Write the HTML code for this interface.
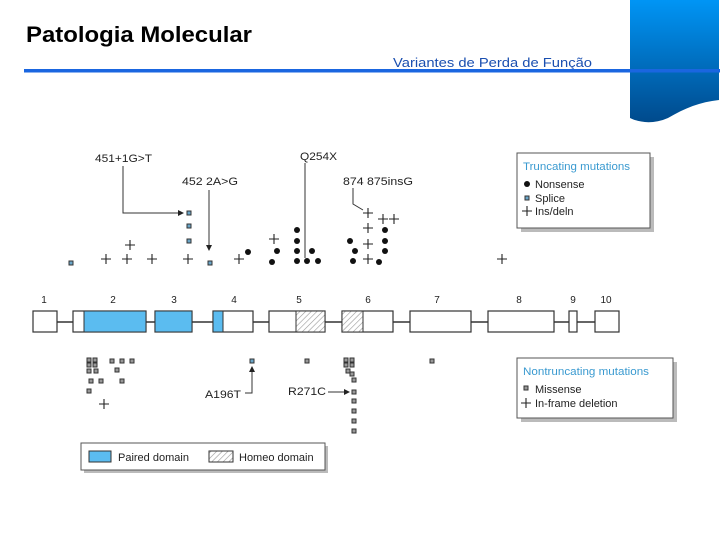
<!DOCTYPE html>
<html><head><meta charset="utf-8"><style>
html,body{margin:0;padding:0;background:#fff;}
svg{display:block;font-family:"Liberation Sans",Arial,sans-serif;}
</style></head><body>
<svg width="720" height="540" viewBox="0 0 720 540" xmlns="http://www.w3.org/2000/svg">
<defs>
<linearGradient id="tab" x1="0" y1="0" x2="0" y2="1">
<stop offset="0" stop-color="#0095f5"/><stop offset="1" stop-color="#004a8c"/>
</linearGradient>
<pattern id="hatch" width="4" height="4" patternUnits="userSpaceOnUse" patternTransform="rotate(45)">
<rect width="4" height="4" fill="#fff"/><line x1="0" y1="0" x2="0" y2="4" stroke="#999" stroke-width="1.2"/>
</pattern>
<marker id="ar" markerWidth="6" markerHeight="6" refX="5" refY="3" orient="auto" markerUnits="userSpaceOnUse">
<path d="M0,0 L6,3 L0,6z" fill="#222"/></marker>
</defs>

<path d="M630,0 H719 V100 C700,102 685,108 668,118 C652,125 638,122 630,118 Z" fill="url(#tab)"/>
<text x="26" y="42" font-size="22" font-weight="bold" fill="#000" textLength="226" lengthAdjust="spacingAndGlyphs">Patologia Molecular</text>
<text x="393" y="67" font-size="12.5" fill="#1a4fb0" textLength="199" lengthAdjust="spacingAndGlyphs">Variantes de Perda de Função</text>
<rect x="24" y="69" width="696" height="3.5" fill="#1a66e0"/>

<g stroke="#333" stroke-width="1.5">
<line x1="57" y1="322" x2="596" y2="322"/>
</g>
<g stroke="#333" stroke-width="1.2" fill="#fff">
<rect x="33" y="311" width="24" height="21"/>
<rect x="73" y="311" width="73" height="21"/>
<rect x="155" y="311" width="37" height="21"/>
<rect x="213" y="311" width="40" height="21"/>
<rect x="269" y="311" width="56" height="21"/>
<rect x="342" y="311" width="51" height="21"/>
<rect x="410" y="311" width="61" height="21"/>
<rect x="488" y="311" width="66" height="21"/>
<rect x="569" y="311" width="8" height="21"/>
<rect x="595" y="311" width="24" height="21"/>
</g>
<g fill="#5bbcf0" stroke="#333" stroke-width="1">
<rect x="84" y="311" width="62" height="21"/>
<rect x="155" y="311" width="37" height="21"/>
<rect x="213" y="311" width="10" height="21"/>
</g>
<g fill="url(#hatch)" stroke="#333" stroke-width="1">
<rect x="296" y="311" width="29" height="21"/>
<rect x="342" y="311" width="21" height="21"/>
</g>
<g font-size="10" fill="#222" text-anchor="middle">
<text x="44" y="303">1</text><text x="113" y="303">2</text><text x="174" y="303">3</text>
<text x="234" y="303">4</text><text x="299" y="303">5</text><text x="368" y="303">6</text>
<text x="437" y="303">7</text><text x="519" y="303">8</text><text x="573" y="303">9</text>
<text x="606" y="303">10</text>
</g>

<g font-size="11" fill="#222">
<text x="95" y="162" textLength="57" lengthAdjust="spacingAndGlyphs">451+1G&gt;T</text>
<text x="182" y="185" textLength="56" lengthAdjust="spacingAndGlyphs">452 2A&gt;G</text>
<text x="300" y="160" textLength="37" lengthAdjust="spacingAndGlyphs">Q254X</text>
<text x="343" y="185" textLength="70" lengthAdjust="spacingAndGlyphs">874 875insG</text>
</g>
<g stroke="#333" stroke-width="1" fill="none">
<polyline points="123,166 123,213 183,213" marker-end="url(#ar)"/>
<line x1="209" y1="190" x2="209" y2="250" marker-end="url(#ar)"/>
<line x1="305" y1="163" x2="305" y2="258"/>
<polyline points="353,188 353,204 363,210"/>
</g>
<g fill="#6aa6c8" stroke="#333" stroke-width="1">
<rect x="187" y="211" width="4" height="4"/><rect x="187" y="224" width="4" height="4"/>
<rect x="187" y="239" width="4" height="4"/><rect x="69" y="261" width="4" height="4"/>
<rect x="208" y="261" width="4" height="4"/>
</g>
<g stroke="#222" stroke-width="1.1">
<path d="M101,259h10M106,254v10 M122,259h10M127,254v10 M147,259h10M152,254v10 M183,259h10M188,254v10 M234,259h10M239,254v10 M125,245h10M130,240v10 M269,239h10M274,234v10 M497,259h10M502,254v10
M363,213h10M368,208v10 M378,219h10M383,214v10 M389,219h10M394,214v10 M363,228h10M368,223v10 M363,244h10M368,239v10 M363,259h10M368,254v10
M99,404h10M104,399v10"/>
</g>
<g fill="#111">
<circle cx="248" cy="252" r="3"/><circle cx="277" cy="251" r="3"/><circle cx="272" cy="262" r="3"/>
<circle cx="297" cy="230" r="3"/><circle cx="297" cy="241" r="3"/><circle cx="297" cy="251" r="3"/><circle cx="297" cy="261" r="3"/>
<circle cx="312" cy="251" r="3"/><circle cx="307" cy="261" r="3"/><circle cx="318" cy="261" r="3"/>
<circle cx="385" cy="230" r="3"/><circle cx="350" cy="241" r="3"/><circle cx="385" cy="241" r="3"/>
<circle cx="355" cy="251" r="3"/><circle cx="385" cy="251" r="3"/><circle cx="353" cy="261" r="3"/><circle cx="379" cy="262" r="3"/>
</g>

<rect x="521" y="157" width="133" height="75" fill="#bbb"/>
<rect x="517" y="153" width="133" height="75" fill="#fff" stroke="#555" stroke-width="1"/>
<text x="523" y="170" font-size="11" fill="#3a9ad0" textLength="107" lengthAdjust="spacingAndGlyphs">Truncating mutations</text>
<circle cx="527" cy="184" r="3" fill="#111"/>
<rect x="525" y="196" width="4" height="4" fill="#6aa6c8" stroke="#333"/>
<path d="M522,211h10M527,206v10" stroke="#222" stroke-width="1.1"/>
<g font-size="11" fill="#222"><text x="535" y="188">Nonsense</text><text x="535" y="202">Splice</text><text x="535" y="215">Ins/deln</text></g>

<g fill="#999" stroke="#333" stroke-width="1">
<rect x="87" y="358" width="4" height="4"/><rect x="93" y="358" width="4" height="4"/>
<rect x="87" y="363" width="4" height="4"/><rect x="93" y="363" width="4" height="4"/>
<rect x="110" y="359" width="4" height="4"/><rect x="120" y="359" width="4" height="4"/><rect x="130" y="359" width="4" height="4"/>
<rect x="87" y="369" width="4" height="4"/><rect x="94" y="369" width="4" height="4"/><rect x="115" y="368" width="4" height="4"/>
<rect x="89" y="379" width="4" height="4"/><rect x="99" y="379" width="4" height="4"/><rect x="120" y="379" width="4" height="4"/>
<rect x="87" y="389" width="4" height="4"/>
<rect x="305" y="359" width="4" height="4"/><rect x="430" y="359" width="4" height="4"/>
<rect x="344" y="358" width="4" height="4"/><rect x="350" y="358" width="4" height="4"/>
<rect x="344" y="363" width="4" height="4"/><rect x="350" y="363" width="4" height="4"/>
<rect x="346" y="369" width="4" height="4"/><rect x="350" y="372" width="4" height="4"/>
<rect x="352" y="378" width="4" height="4"/><rect x="352" y="390" width="4" height="4"/>
<rect x="352" y="399" width="4" height="4"/><rect x="352" y="409" width="4" height="4"/>
<rect x="352" y="419" width="4" height="4"/><rect x="352" y="429" width="4" height="4"/>
</g>
<rect x="250" y="359" width="4" height="4" fill="#6aa6c8" stroke="#333"/>
<g font-size="11" fill="#222"><text x="205" y="398" textLength="36" lengthAdjust="spacingAndGlyphs">A196T</text><text x="288" y="395" textLength="38" lengthAdjust="spacingAndGlyphs">R271C</text></g>
<g stroke="#333" stroke-width="1" fill="none">
<polyline points="245,393 252,393 252,367" marker-end="url(#ar)"/>
<line x1="328" y1="392" x2="349" y2="392" marker-end="url(#ar)"/>
</g>

<rect x="521" y="362" width="156" height="60" fill="#bbb"/>
<rect x="517" y="358" width="156" height="60" fill="#fff" stroke="#555" stroke-width="1"/>
<text x="523" y="375" font-size="11" fill="#3a9ad0" textLength="126" lengthAdjust="spacingAndGlyphs">Nontruncating mutations</text>
<rect x="524" y="386" width="4" height="4" fill="#999" stroke="#333"/>
<path d="M521,403h10M526,398v10" stroke="#222" stroke-width="1.1"/>
<g font-size="11" fill="#222"><text x="535" y="393">Missense</text><text x="535" y="407">In-frame deletion</text></g>

<rect x="84" y="446" width="244" height="27" fill="#bbb"/>
<rect x="81" y="443" width="244" height="27" fill="#fff" stroke="#555" stroke-width="1"/>
<rect x="89" y="451" width="22" height="11" fill="#5bbcf0" stroke="#333"/>
<rect x="209" y="451" width="24" height="11" fill="url(#hatch)" stroke="#333"/>
<g font-size="11" fill="#222"><text x="118" y="461">Paired domain</text><text x="239" y="461">Homeo domain</text></g>
</svg>
</body></html>
